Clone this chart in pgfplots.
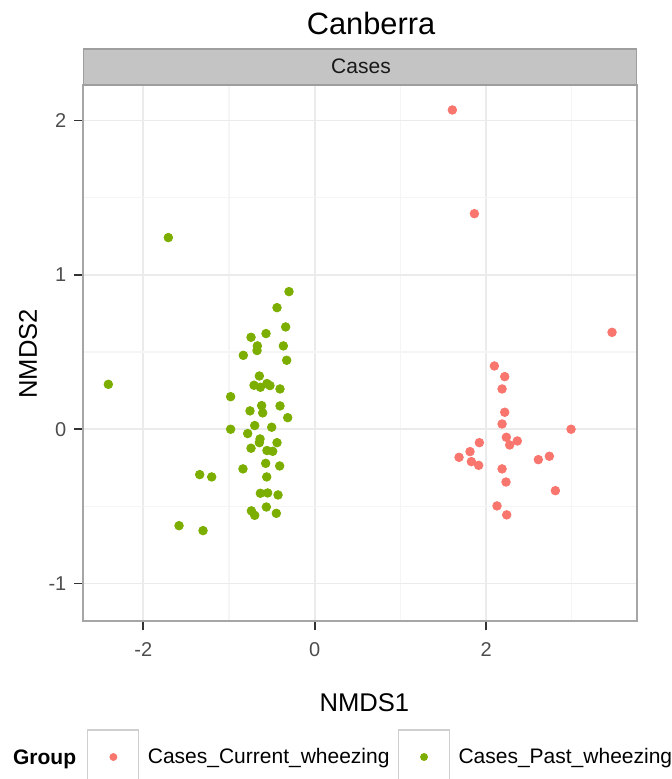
\documentclass[border=0pt]{standalone}
\usepackage{fontspec}
\setmainfont{Liberation Sans}
\usepackage{pgfplots}
\usepackage{pgfplotstable}
\pgfplotsset{compat=1.18}

\definecolor{curwheeze}{HTML}{F8766D}
\definecolor{pastwheeze}{HTML}{7CAE00}
\definecolor{gridmajor}{HTML}{EBEBEB}
\definecolor{gridminor}{HTML}{F5F5F5}
\definecolor{panelborder}{HTML}{A6A6A6}
\definecolor{stripfill}{HTML}{C4C4C4}
\definecolor{stripborder}{HTML}{9E9E9E}
\definecolor{ticktext}{HTML}{4D4D4D}
\definecolor{tickmark}{HTML}{333333}
\definecolor{keyborder}{HTML}{CFCFCF}

% NMDS scores, group Cases_Current_wheezing
\pgfplotstableread{
x y
1.606 2.069
1.863 1.397
3.469 0.628
2.096 0.410
2.217 0.341
2.186 0.261
2.217 0.110
2.186 0.034
2.991 0.000
2.236 -0.052
2.364 -0.076
2.275 -0.102
1.921 -0.087
1.812 -0.145
1.684 -0.182
1.828 -0.210
1.913 -0.234
2.738 -0.175
2.609 -0.197
2.186 -0.257
2.232 -0.342
2.808 -0.398
2.127 -0.497
2.240 -0.555
}\current

% NMDS scores, group Cases_Past_wheezing
\pgfplotstableread{
x y
-1.708 1.242
-0.300 0.892
-0.440 0.788
-0.339 0.663
-0.743 0.596
-0.568 0.620
-0.669 0.540
-0.673 0.510
-0.366 0.540
-0.833 0.479
-0.327 0.447
-2.408 0.291
-0.646 0.345
-0.708 0.285
-0.634 0.272
-0.557 0.296
-0.522 0.283
-0.405 0.261
-0.981 0.211
-0.619 0.153
-0.405 0.151
-0.755 0.119
-0.607 0.106
-0.315 0.075
-0.700 0.024
-0.502 0.013
-0.981 0.000
-0.782 -0.028
-0.638 -0.063
-0.646 -0.087
-0.440 -0.087
-0.743 -0.123
-0.557 -0.138
-0.490 -0.143
-0.572 -0.221
-0.409 -0.238
-0.837 -0.257
-1.342 -0.294
-1.202 -0.309
-0.560 -0.309
-0.634 -0.415
-0.549 -0.413
-0.428 -0.426
-0.564 -0.504
-0.739 -0.529
-0.700 -0.558
-0.448 -0.545
-1.583 -0.625
-1.303 -0.657
}\past

\begin{document}
\begin{tikzpicture}
\useasboundingbox (0pt,0pt) rectangle (335.5pt,389.5pt);
\begin{axis}[
  at={(41.65pt,78.75pt)}, anchor=south west,
  scale only axis, width=276.7pt, height=268.25pt,
  xmin=-2.70, xmax=3.757, ymin=-1.246, ymax=2.231,
  xtick={-2,0,2}, xticklabels={-2,0,2},
  ytick={-1,0,1,2}, yticklabels={-1,0,1,2},
  minor xtick={-1,1,3}, minor ytick={-0.5,0.5,1.5},
  grid=both,
  major grid style={draw=gridmajor, line width=0.8pt},
  minor grid style={draw=gridminor, line width=0.6pt},
  axis line style={draw=panelborder, line width=1pt},
  tick align=outside, tick pos=left,
  major tick length=4.5pt, minor tick length=0pt,
  major tick style={draw=tickmark, line width=0.8pt},
  tick label style={font=\fontsize{10}{12}\selectfont, text=ticktext},
  xticklabel style={inner sep=0pt, anchor=north, yshift=-6pt},
  yticklabel style={inner sep=0pt, anchor=east, xshift=-3.8pt},
  title={Canberra},
  every axis title shift=0pt,
  title style={at={(axis description cs:0.520,1.0932)}, anchor=base, inner sep=0pt,
    font=\fontsize{15.4}{18}\selectfont},
  xlabel={NMDS1},
  xlabel style={at={(axis description cs:0.508,-0.1681)}, anchor=base, inner sep=0pt,
    font=\fontsize{12.8}{15}\selectfont},
  ylabel={NMDS2},
  ylabel style={at={(axis description cs:-0.0837,0.4986)}, anchor=base, rotate=0, inner sep=0pt,
    font=\fontsize{12.8}{15}\selectfont},
  legend columns=2,
  legend cell align=left,
  legend style={at={(axis description cs:0.0072,-0.2526)}, anchor=west,
    draw=none, fill=none, inner sep=0pt, outer sep=0pt,
    font=\fontsize{10.5}{12}\selectfont,
    nodes={inner sep=0pt},
    /tikz/every odd column/.append style={column sep=4.2pt},
    /tikz/every even column/.append style={column sep=4.2pt}},
  legend image code/.code={
    \draw[draw=keyborder, fill=white, line width=0.6pt] (0pt,-13.5pt) rectangle (25.5pt,13.5pt);
    \draw[#1, mark size=1.75pt] plot coordinates {(12.75pt,0pt)};
  },
]
\addplot[only marks, mark=*, mark size=2.15pt, color=curwheeze] table[x=x, y=y] {\current};
\addlegendentry{Cases\_Current\_wheezing}
\addplot[only marks, mark=*, mark size=2.15pt, color=pastwheeze] table[x=x, y=y] {\past};
\addlegendentry{Cases\_Past\_wheezing}
\end{axis}
% facet strip
\filldraw[fill=stripfill, draw=stripborder, line width=0.6pt] (41.65pt,347pt) rectangle (318.35pt,365pt);
\node[anchor=base, inner sep=0pt, font=\fontsize{10.5}{12}\selectfont, text=black!90] at (180.5pt,352.5pt) {Cases};
% legend title
\node[anchor=base west, inner sep=0pt, font=\bfseries\fontsize{10.5}{12}\selectfont] at (6.35pt,7pt) {Group};
\end{tikzpicture}
\end{document}
